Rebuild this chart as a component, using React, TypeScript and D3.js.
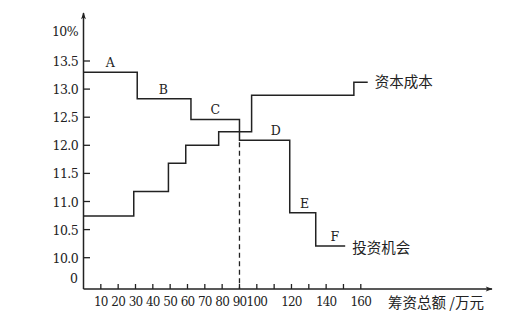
import React from "react";
import * as d3 from "d3";

const yTickValues = [10.0, 10.5, 11.0, 11.5, 12.0, 12.5, 13.0, 13.5];
const xTickValues = [10, 20, 30, 40, 50, 60, 70, 80, 90, 100, 110, 120, 130, 140, 150, 160];
const xLabelValues = [10, 20, 30, 40, 50, 60, 70, 80, 90, 100, 120, 140, 160];

// investment opportunity schedule (step breaks and rates)
const investBreaks = [0, 31, 62, 90, 119, 134, 151];
const investRates = [13.3, 12.83, 12.46, 12.09, 10.8, 10.21];
const investLetters = ["A", "B", "C", "D", "E", "F"];
const investLetterX = [15.5, 46, 76, 111, 127.5, 145];

// marginal cost of capital schedule
const costBreaks = [0, 29, 49, 59, 78, 97, 156, 164];
const costRates = [10.74, 11.18, 11.68, 12.0, 12.24, 12.89, 13.12];

const optimalX = 90;

const W = 531;
const H = 324;
const INK = "#222";
const CJK = "Noto Sans CJK SC";

export default function App() {
  const x = d3.scaleLinear().domain([0, 160]).range([83.5, 360.8]);
  const y = d3.scaleLinear().domain([10, 13.5]).range([257.7, 61]);
  const axisY = 289;
  const axisX = x(0);

  const stepPts = (breaks: number[], rates: number[]) => {
    const pts: [number, number][] = rates.map((r, i) => [breaks[i], r]);
    pts.push([breaks[breaks.length - 1], rates[rates.length - 1]]);
    return pts;
  };
  const line = d3
    .line<[number, number]>()
    .x((d) => x(d[0]))
    .y((d) => y(d[1]))
    .curve(d3.curveStepAfter);

  const investPath = line(stepPts(investBreaks, investRates)) || "";
  const costPath = line(stepPts(costBreaks, costRates)) || "";

  const costEndX = x(costBreaks[costBreaks.length - 1]);
  const costEndY = y(costRates[costRates.length - 1]);
  const invEndX = x(investBreaks[investBreaks.length - 1]);
  const invEndY = y(investRates[investRates.length - 1]);
  const dIdx = investBreaks.indexOf(optimalX);

  const serif = { fontFamily: `"DejaVu Serif", serif`, fontSize: 12.5 };
  const serifX = { fontFamily: `"DejaVu Serif", serif`, fontSize: 12, letterSpacing: -0.8 };
  const cjk = { fontFamily: `"${CJK}", sans-serif`, fontSize: 14.5 };

  return (
    <svg width={W} height={H} style={{ position: "absolute", left: 0, top: 0, background: "#fff" }}>
      <defs>
        <marker id="arr" viewBox="0 0 10 10" refX="9" refY="5" markerWidth="9" markerHeight="7" markerUnits="userSpaceOnUse" orient="auto">
          <path d="M0,1.5 L10,5 L0,8.5 L2.5,5 Z" fill={INK} />
        </marker>
      </defs>
      {/* axes */}
      <line x1={axisX} y1={axisY} x2={axisX} y2={13} stroke={INK} strokeWidth={1.5} markerEnd="url(#arr)" />
      <line x1={axisX} y1={axisY} x2={492} y2={axisY} stroke={INK} strokeWidth={1.5} markerEnd="url(#arr)" />
      {yTickValues.map((v) => (
        <g key={v}>
          <line x1={axisX} x2={axisX + 6.5} y1={y(v)} y2={y(v)} stroke={INK} strokeWidth={1.3} />
          <text x={78} y={y(v) + 5} textAnchor="end" style={serif} fill={INK} letterSpacing={-0.6}>
            {v.toFixed(1)}
          </text>
        </g>
      ))}
      <text x={78} y={36} textAnchor="end" style={serif} fill={INK} letterSpacing={-0.6}>10%</text>
      <text x={78} y={283} textAnchor="end" style={serif} fill={INK}>0</text>
      {xTickValues.map((v) => (
        <line key={v} x1={x(v)} x2={x(v)} y1={axisY} y2={axisY - 5} stroke={INK} strokeWidth={1.3} />
      ))}
      {xLabelValues.map((v) => (
        <text key={v} x={x(v)} y={306} textAnchor="middle" style={serifX} fill={INK}>
          {v}
        </text>
      ))}
      <text x={388} y={308} style={cjk} fill={INK}>
        筹资总额 /万元
      </text>
      {/* dashed optimum */}
      <line x1={x(optimalX)} x2={x(optimalX)} y1={y(investRates[dIdx]) + 2} y2={axisY} stroke={INK} strokeWidth={1.3} strokeDasharray="5,3.5" />
      {/* step lines */}
      <path d={investPath} fill="none" stroke={INK} strokeWidth={1.5} />
      <path d={costPath} fill="none" stroke={INK} strokeWidth={1.5} />
      {investLetters.map((l, i) => (
        <text key={l} x={x(investLetterX[i])} y={y(investRates[i]) - 5} textAnchor="middle" style={serif} fill={INK}>
          {l}
        </text>
      ))}
      <text x={costEndX + 7} y={costEndY + 5} style={cjk} fill={INK}>资本成本</text>
      <text x={invEndX + 7} y={invEndY + 7} style={cjk} fill={INK}>投资机会</text>
    </svg>
  );
}
